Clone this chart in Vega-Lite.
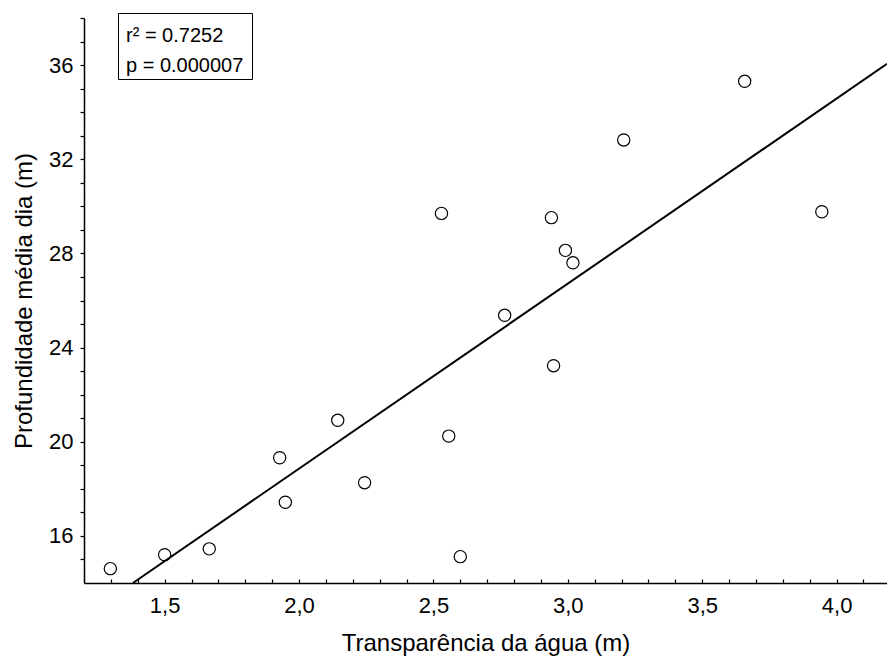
{
  "$schema": "https://vega.github.io/schema/vega-lite/v6.json",
  "width": 803,
  "height": 565,
  "autosize": {"type": "none"},
  "padding": {"left": 84, "top": 18, "right": 0, "bottom": 81},
  "background": "white",
  "config": {"view": {"stroke": null}, "font": "Liberation Sans", "axis": {"labelOverlap": false}},
  "datasets": {
    "points": [
      {"transparencia": 1.298, "profundidade": 14.61},
      {"transparencia": 1.50, "profundidade": 15.20},
      {"transparencia": 1.666, "profundidade": 15.45},
      {"transparencia": 1.928, "profundidade": 19.32},
      {"transparencia": 1.949, "profundidade": 17.43},
      {"transparencia": 2.144, "profundidade": 20.91},
      {"transparencia": 2.244, "profundidade": 18.26},
      {"transparencia": 2.557, "profundidade": 20.24},
      {"transparencia": 2.600, "profundidade": 15.12},
      {"transparencia": 2.53, "profundidade": 29.70},
      {"transparencia": 2.765, "profundidade": 25.37},
      {"transparencia": 2.939, "profundidade": 29.52},
      {"transparencia": 2.947, "profundidade": 23.23},
      {"transparencia": 2.991, "profundidade": 28.13},
      {"transparencia": 3.019, "profundidade": 27.60},
      {"transparencia": 3.208, "profundidade": 32.82},
      {"transparencia": 3.658, "profundidade": 35.31},
      {"transparencia": 3.945, "profundidade": 29.77}
    ],
    "fit": [
      {"transparencia": 1.382, "profundidade": 14.0},
      {"transparencia": 4.1875, "profundidade": 36.05}
    ],
    "stats": [
      {"stat": "r² = 0.7252", "texto": "r² = 0.7252"},
      {"stat": "p = 0.000007", "texto": "p = 0.000007"}
    ]
  },
  "layer": [
    {
      "encoding": {
        "x": {
          "field": "transparencia",
          "type": "quantitative",
          "scale": {"domain": [1.2, 4.1875], "nice": false, "zero": false},
          "axis": {
            "title": "Transparência da água (m)",
            "values": [1.3, 1.4, 1.5, 1.6, 1.7, 1.8, 1.9, 2.0, 2.1, 2.2, 2.3, 2.4, 2.5, 2.6, 2.7, 2.8, 2.9, 3.0, 3.1, 3.2, 3.3, 3.4, 3.5, 3.6, 3.7, 3.8, 3.9, 4.0, 4.1],
            "labelExpr": "abs(datum.value*2 - round(datum.value*2)) < 0.001 ? replace(format(datum.value, '.1f'), '.', ',') : ''",
            "grid": false,
            "domainColor": "black",
            "domainWidth": 1.5,
            "tickColor": "black",
            "tickSize": -4,
            "tickWidth": 1.2,
            "labelFontSize": 22,
            "labelColor": "black",
            "labelPadding": 16,
            "labelOverlap": false,
            "labelFlush": false,
            "titleFontSize": 24,
            "titleFontWeight": "normal",
            "titleColor": "black",
            "titlePadding": 15
          }
        },
        "y": {
          "field": "profundidade",
          "type": "quantitative",
          "scale": {"domain": [14, 38], "nice": false, "zero": false},
          "axis": {
            "title": "Profundidade média dia (m)",
            "values": [15, 16, 17, 18, 19, 20, 21, 22, 23, 24, 25, 26, 27, 28, 29, 30, 31, 32, 33, 34, 35, 36, 37, 38],
            "labelExpr": "datum.value % 4 == 0 ? format(datum.value, 'd') : ''",
            "grid": false,
            "domainColor": "black",
            "domainWidth": 1.5,
            "tickColor": "black",
            "tickSize": 4,
            "tickWidth": 1.2,
            "labelFontSize": 22,
            "labelColor": "black",
            "labelPadding": 7,
            "labelOverlap": false,
            "labelFlush": false,
            "titleFontSize": 24,
            "titleFontWeight": "normal",
            "titleColor": "black",
            "titlePadding": 12
          }
        }
      },
      "layer": [
        {
          "data": {"name": "fit"},
          "mark": {"type": "line", "color": "black", "strokeWidth": 2}
        },
        {
          "data": {"name": "points"},
          "mark": {"type": "point", "shape": "circle", "filled": false, "stroke": "black", "strokeWidth": 1.2, "size": 150, "opacity": 1}
        }
      ]
    },
    {
      "data": {"name": "stats"},
      "mark": {"type": "point", "opacity": 0},
      "encoding": {
        "shape": {
          "field": "stat",
          "type": "nominal",
          "sort": ["r² = 0.7252", "p = 0.000007"],
          "legend": {
            "orient": "none",
            "legendX": 34,
            "legendY": -5,
            "zindex": 1,
            "title": null,
            "strokeColor": "black",
            "fillColor": "white",
            "padding": 8,
            "labelFontSize": 20,
            "labelColor": "black",
            "labelOpacity": 0,
            "labelFont": "Liberation Sans",
            "symbolSize": 1,
            "symbolOpacity": 0,
            "symbolStrokeWidth": 0,
            "labelOffset": -20,
            "rowPadding": 10
          }
        },
        "color": {
          "field": "texto",
          "type": "nominal",
          "sort": ["r² = 0.7252", "p = 0.000007"],
          "scale": {"range": ["black", "black"]},
          "legend": {
            "orient": "none",
            "legendX": 34,
            "legendY": -0.5,
            "zindex": 2,
            "title": null,
            "padding": 8,
            "labelFontSize": 20,
            "labelColor": "black",
            "labelFont": "Liberation Sans",
            "symbolSize": 1,
            "symbolOpacity": 0,
            "symbolStrokeWidth": 0,
            "labelOffset": -20,
            "rowPadding": 10
          }
        }
      }
    }
  ]
}
